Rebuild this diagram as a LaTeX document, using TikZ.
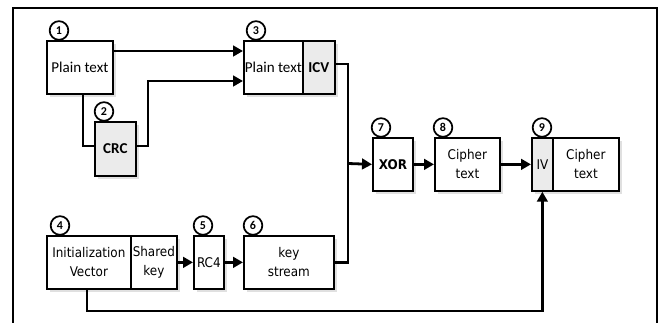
\documentclass[tikz,border=0pt]{standalone}
\usepackage{fontspec}
\setmainfont{Carlito}
\newfontfamily\cond{DejaVu Sans Condensed}
\usetikzlibrary{arrows.meta,shadows}
\begin{document}
\begin{tikzpicture}[x=0.75pt,y=-0.75pt,
  box/.style={draw, line width=1.3pt, fill=white, inner sep=0pt, align=center, anchor=north west,
    minimum height=39.75pt, drop shadow={shadow xshift=2pt, shadow yshift=-2pt, fill=black!12, opacity=1}},
  gbox/.style={box, fill=black!8},
  cal/.style={font=\fontsize{11.3}{13}\selectfont},
  calb/.style={font=\fontsize{11.3}{13}\selectfont\bfseries},
  cnd/.style={font=\cond\fontsize{10}{14}\selectfont},
  cndb/.style={font=\cond\fontsize{10}{14}\selectfont\bfseries},
  circ/.style={circle, draw, line width=1.3pt, fill=white, minimum size=14pt, inner sep=0pt,
    font=\fontsize{9}{9}\selectfont\bfseries},
  conn/.style={line width=2.1pt},
  arr/.style={conn, -{Triangle[length=7.5pt,width=8pt]}}]
\useasboundingbox (0,0) rectangle (661,323);
\draw[line width=1.6pt] (13,323) -- (13,8) -- (657,8) -- (657,323);

% boxes
\node[box, cal, minimum width=49.5pt] (b1) at (46,40) {Plain text};
\node[gbox, calb, minimum width=30.75pt, minimum height=40.5pt] (b2) at (94,121) {CRC};
\node[box, cal, minimum width=44.25pt] (b3a) at (243,40) {Plain text};
\node[gbox, calb, minimum width=24pt] (b3b) at (302,40) {ICV};
\node[box, cndb, minimum width=30pt] (b7) at (372,137) {XOR};
\node[box, cnd, minimum width=48.75pt] (b8) at (434,137) {Cipher\\text};
\node[gbox, cnd, minimum width=15.75pt] (b9a) at (531,137) {IV};
\node[box, cnd, minimum width=49.5pt] (b9b) at (552,137) {Cipher\\text};
\node[box, cnd, minimum width=63pt] (b4a) at (46,235) {Initialization\\Vector};
\node[box, cnd, minimum width=34.5pt] (b4b) at (130,235) {Shared\\key};
\node[box, cnd, minimum width=22.5pt] (b5) at (193,235) {RC4};
\node[box, cnd, minimum width=67.5pt] (b6) at (243,235) {key\\stream};

% numbered circles
\node[circ] (c1) at (59,30.5) {1};
\node[circ] (c2) at (104,111.5) {2};
\node[circ] (c3) at (256,30.5) {3};
\node[circ] (c4) at (60,225.5) {4};
\node[circ] (c5) at (203,225.5) {5};
\node[circ] (c6) at (253,225.5) {6};
\node[circ] (c7) at (381,127.5) {7};
\node[circ] (c8) at (443,127.5) {8};
\node[circ] (c9) at (542,127.5) {9};

% turning points
\coordinate (q1) at (0,51);
\coordinate (p1) at (83,146);
\coordinate (p2) at (148,146);
\coordinate (p3) at (148,81);
\coordinate (m1) at (348,64);
\coordinate (m2) at (348,163.5);
\coordinate (r1) at (87,311);

% connectors
\draw[arr] (b1.east |- q1) -- (b3a.west |- q1);
\draw[conn] (b1.south -| p1) |- (b2.west |- p1);
\draw[arr] (b2.east |- p2) -- (p2) -- (p3) -- (b3a.west |- p3);
\draw[conn] (b3b.east |- m1) -| (m2);
\draw[conn] (b6.east) -| (m2);
\draw[arr] (m2) -- (b7.west);
\draw[arr] (b7) -- (b8);
\draw[arr] (b8) -- (b9a);
\draw[arr] (b4b) -- (b5);
\draw[arr] (b5) -- (b6);
\draw[arr] (b4a.south -| r1) -- (r1) -| (b9a.south);
\end{tikzpicture}
\end{document}
